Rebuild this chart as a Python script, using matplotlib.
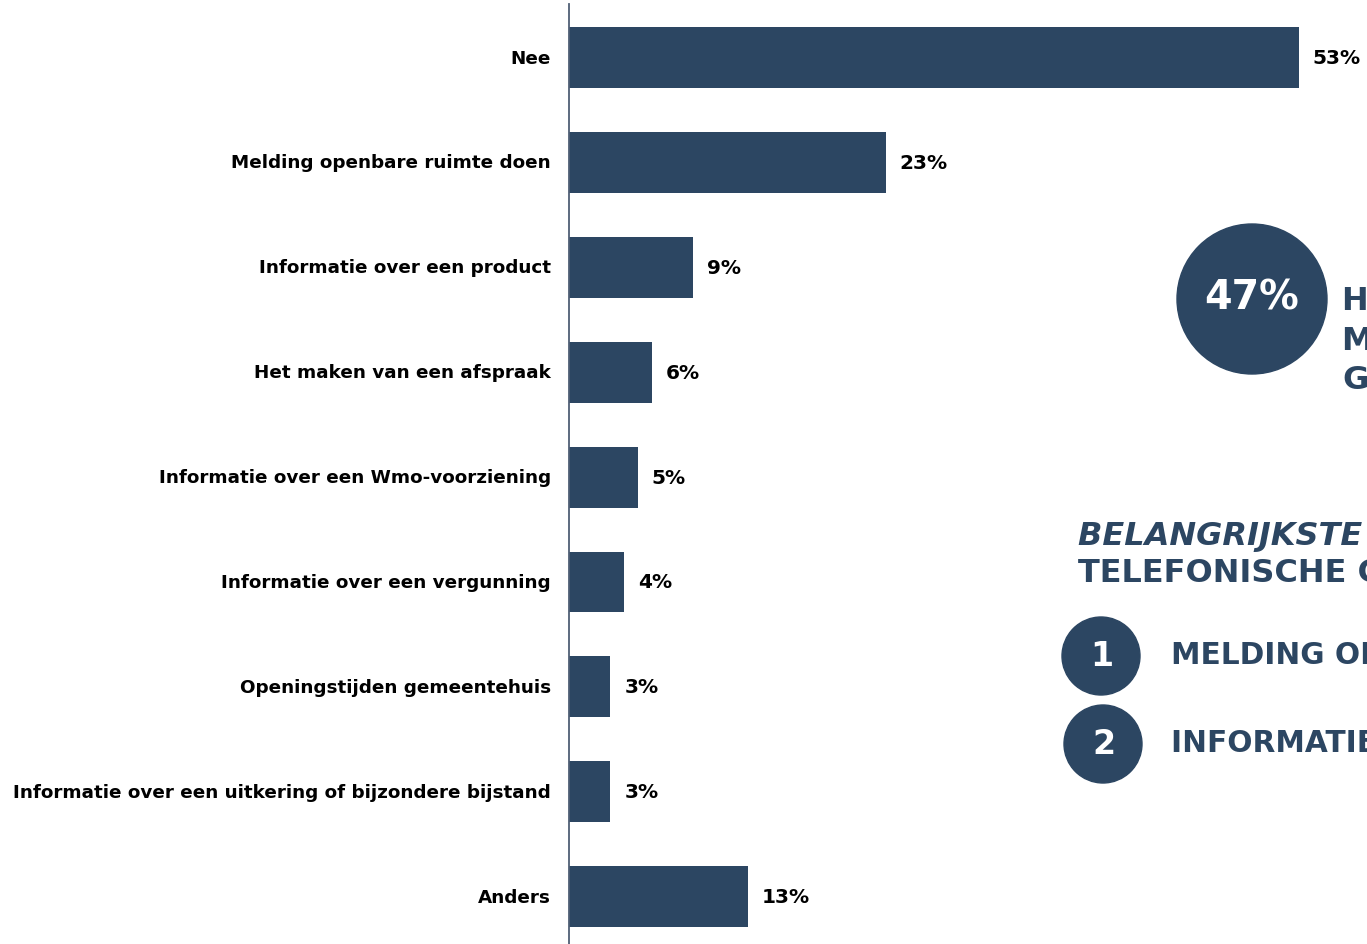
import matplotlib
matplotlib.use("Agg")
import matplotlib.pyplot as plt
from matplotlib.patches import Circle
from matplotlib.transforms import ScaledTranslation

plt.rcParams["font.family"] = ["DejaVu Sans"]

# Survey answers and their shares (%)
categories = [
    "Nee",
    "Melding openbare ruimte doen",
    "Informatie over een product",
    "Het maken van een afspraak",
    "Informatie over een Wmo-voorziening",
    "Informatie over een vergunning",
    "Openingstijden gemeentehuis",
    "Informatie over een uitkering of bijzondere bijstand",
    "Anders",
]
values = [53, 23, 9, 6, 5, 4, 3, 3, 13]
value_labels = [f"{v}%" for v in values]

# Side panel texts
highlight_value = "47%"
highlight_text = "HEEFT EEN VRAAG OF\nMELDING VOOR DE\nGEMEENTE"
top_title_1 = "BELANGRIJKSTE REDENEN"
top_title_2 = "TELEFONISCHE CONTACT"
top_ranks = ["1", "2"]
top_items = ["MELDING OPENBARE RUIMTE", "INFORMATIE OVER EEN PRODUCT"]

NAVY = "#2c4662"
AXIS = "#4f5f75"

W, H = 1367, 945
fig = plt.figure(figsize=(W / 100, H / 100), dpi=100)

# Bar chart axes in pixel layout
px_per_unit = 13.77
ax_left, ax_right = 569, W
ax_top, ax_bottom = 5, H
ax = fig.add_axes([ax_left / W, 1 - ax_bottom / H, (ax_right - ax_left) / W, (ax_bottom - ax_top) / H])

pos = list(range(len(categories)))
ax.barh(pos, values, height=0.58, color=NAVY, zorder=2)
ax.set_xlim(0, (ax_right - ax_left) / px_per_unit)
row = 104.9
ax.set_ylim((ax_bottom - 58.5) / row, -(58.5 - ax_top) / row)

ax.set_yticks(pos)
ax.set_yticklabels(categories, fontsize=13.2, fontweight="bold", color="#000000")
ax.tick_params(axis="y", length=0, pad=13)
lift = ScaledTranslation(0, 2 / 100, fig.dpi_scale_trans)
for t in ax.get_yticklabels():
    t.set_transform(t.get_transform() + lift)
ax.set_xticks([])
for s in ["top", "right", "bottom"]:
    ax.spines[s].set_visible(False)
ax.spines["left"].set_color(AXIS)
ax.spines["left"].set_linewidth(1.3)

for p, v, lab in zip(pos, values, value_labels):
    ax.annotate(lab, xy=(v, p), xytext=(10, 0), textcoords="offset points",
                ha="left", va="center", fontsize=14.5, fontweight="bold", color="#000000")

# Overlay for the side panel, in pixel coordinates
ov = fig.add_axes([0, 0, 1, 1], facecolor="none")
ov.set_xlim(0, W)
ov.set_ylim(H, 0)
ov.axis("off")

ov.add_patch(Circle((1252, 300), 75, color=NAVY))
ov.text(1252, 298, highlight_value, ha="center", va="center", fontsize=28.5,
        fontweight="bold", color="white")
ov.text(1342, 341, highlight_text, ha="left", va="center", fontsize=23,
        fontweight="bold", color=NAVY, linespacing=1.35)

ov.text(1078, 537, top_title_1, ha="left", va="center", fontsize=23,
        fontweight="bold", style="italic", color=NAVY)
ov.text(1078, 574, top_title_2, ha="left", va="center", fontsize=23,
        fontweight="bold", color=NAVY)

for (cy, cx), rank, item in zip([(657, 1101), (745, 1103)], top_ranks, top_items):
    ov.add_patch(Circle((cx, cy), 39, color=NAVY))
    ov.text(cx + 1, cy, rank, ha="center", va="center", fontsize=24,
            fontweight="bold", color="white")
    ov.text(1171, cy - 1, item, ha="left", va="center", fontsize=21.3,
            fontweight="bold", color=NAVY)

fig.savefig("out.png", dpi=100)
